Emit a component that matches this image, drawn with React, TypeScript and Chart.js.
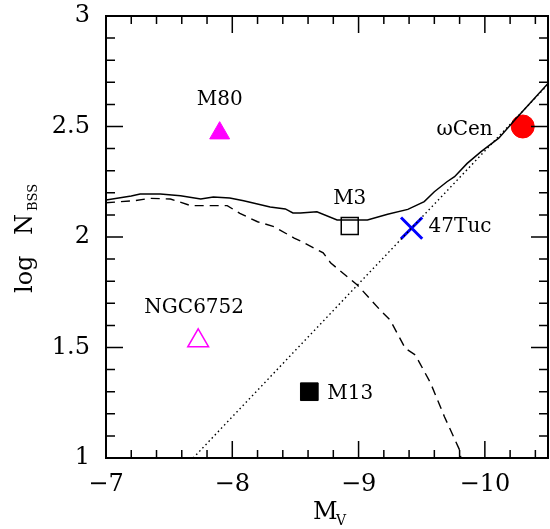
import { useEffect, useRef } from "react";
import Chart from "chart.js/auto";

// Axis tick labels
const X_TICKS = [-10, -9, -8, -7];
const Y_TICKS = [1, 1.5, 2, 2.5, 3];

// Solid curve (total)
const SOLID_MV = [-7.0, -7.2, -7.27, -7.43, -7.59, -7.75, -7.85, -7.98, -8.09, -8.3, -8.42, -8.48, -8.54, -8.67, -8.83, -9.07, -9.23, -9.39, -9.52, -9.6, -9.7, -9.76, -9.86, -9.97, -10.11, -10.26, -10.5];
const SOLID_LOGN = [2.167, 2.186, 2.195, 2.195, 2.187, 2.172, 2.181, 2.176, 2.164, 2.136, 2.127, 2.109, 2.109, 2.114, 2.077, 2.077, 2.103, 2.125, 2.16, 2.205, 2.25, 2.273, 2.333, 2.386, 2.447, 2.544, 2.695];

// Dashed curve
const DASHED_MV = [-7.0, -7.22, -7.35, -7.51, -7.67, -7.96, -8.06, -8.2, -8.33, -8.49, -8.54, -8.72, -8.78, -8.99, -9.17, -9.25, -9.37, -9.45, -9.57, -9.68, -9.8, -9.81];
const DASHED_LOGN = [2.155, 2.164, 2.175, 2.172, 2.142, 2.142, 2.107, 2.069, 2.047, 1.995, 1.982, 1.928, 1.882, 1.783, 1.67, 1.624, 1.496, 1.466, 1.339, 1.187, 1.036, 1.0];

// Dotted line
const DOTTED_MV = [-7.69, -10.5];
const DOTTED_LOGN = [1.0, 2.69];

// Clusters
const CLUSTERS = ["M80", "NGC6752", "M3", "M13", "47Tuc", "ωCen"];
const CLUSTER_MV = [-7.9, -7.73, -8.93, -8.61, -9.42, -10.3];
const CLUSTER_LOGN = [2.47, 1.53, 2.05, 1.3, 2.04, 2.5];

// Marker styles and label placement (pixels, relative to the marker)
const MARKERS = [
  { style: "triangle", radius: 11.5, fill: "#ff00ff", stroke: "#ff00ff", width: 1, dx: 0, dy: -33, align: "center" },
  { style: "triangle", radius: 12, fill: "rgba(0,0,0,0)", stroke: "#ff00ff", width: 1.5, dx: -4, dy: -33, align: "center" },
  { style: "rect", radius: 12, fill: "rgba(0,0,0,0)", stroke: "#000000", width: 1.5, dx: 0, dy: -27, align: "center" },
  { style: "rect", radius: 12.5, fill: "#000000", stroke: "#000000", width: 1, dx: 18, dy: 2, align: "left" },
  { style: "crossRot", radius: 15, fill: "#0000ff", stroke: "#0000ff", width: 3, dx: 17, dy: -1, align: "left" },
  { style: "circle", radius: 11.5, fill: "#ff0000", stroke: "#ff0000", width: 1, dx: -30, dy: 3, align: "right" },
];

const SERIF = "'DejaVu Serif', serif";

const zip = (xs: number[], ys: number[]) => xs.map((x, i) => ({ x, y: ys[i] }));

const framePlugin = {
  id: "frameAndLabels",
  afterDraw(chart: any) {
    const { ctx, chartArea: a, scales } = chart;
    const xs = scales.x;
    const ys = scales.y;
    ctx.save();
    // frame
    ctx.strokeStyle = "#000";
    ctx.lineWidth = 2;
    ctx.strokeRect(a.left, a.top, a.right - a.left, a.bottom - a.top);
    // ticks
    ctx.lineWidth = 1.5;
    ctx.beginPath();
    for (let i = 0; i <= 17; i++) {
      const v = -7 - i * 0.2;
      const major = i % 5 === 0;
      const len = major ? 17 : 8;
      const px = xs.getPixelForValue(v);
      ctx.moveTo(px, a.bottom);
      ctx.lineTo(px, a.bottom - len);
      ctx.moveTo(px, a.top);
      ctx.lineTo(px, a.top + len);
    }
    for (let i = 0; i <= 20; i++) {
      const v = 1 + i * 0.1;
      const major = i % 5 === 0;
      const len = major ? 17 : 9;
      const py = ys.getPixelForValue(v);
      ctx.moveTo(a.left, py);
      ctx.lineTo(a.left + len, py);
      ctx.moveTo(a.right, py);
      ctx.lineTo(a.right - len, py);
    }
    ctx.stroke();

    // point labels
    ctx.fillStyle = "#000";
    ctx.font = `20px ${SERIF}`;
    ctx.textBaseline = "middle";
    CLUSTERS.forEach((name, i) => {
      const m = MARKERS[i];
      const px = xs.getPixelForValue(CLUSTER_MV[i]);
      const py = ys.getPixelForValue(CLUSTER_LOGN[i]);
      ctx.textAlign = m.align;
      ctx.fillText(name, px + m.dx, py + m.dy);
    });

    // x axis title: M_V
    ctx.textAlign = "left";
    ctx.textBaseline = "alphabetic";
    ctx.font = `24px ${SERIF}`;
    ctx.fillText("M", 313, 519);
    ctx.font = `14px ${SERIF}`;
    ctx.fillText("V", 336, 525);

    // y axis title: log N_BSS
    ctx.translate(32, 293);
    ctx.rotate(-Math.PI / 2);
    ctx.font = `24px ${SERIF}`;
    ctx.fillText("log", 0, 0);
    ctx.fillText("N", 58, 0);
    ctx.font = `13px ${SERIF}`;
    ctx.fillText("BSS", 82, 5);
    ctx.restore();
  },
};

export default function App() {
  const ref = useRef<HTMLCanvasElement | null>(null);
  useEffect(() => {
    document.body.style.margin = "0";
    if (!ref.current) return;
    const pointSets = CLUSTERS.map((name, i) => ({
      label: name,
      data: [{ x: CLUSTER_MV[i], y: CLUSTER_LOGN[i] }],
      pointStyle: MARKERS[i].style,
      pointRadius: MARKERS[i].radius,
      pointHoverRadius: MARKERS[i].radius,
      pointBackgroundColor: MARKERS[i].fill,
      pointBorderColor: MARKERS[i].stroke,
      pointBorderWidth: MARKERS[i].width,
      showLine: false,
      clip: false,
    }));
    const chart = new Chart(ref.current, {
      type: "scatter",
      data: {
        datasets: [
          { label: "dotted", data: zip(DOTTED_MV, DOTTED_LOGN), showLine: true, borderColor: "#000", borderWidth: 1.4, borderDash: [1.5, 3], pointRadius: 0 },
          { label: "dashed", data: zip(DASHED_MV, DASHED_LOGN), showLine: true, borderColor: "#000", borderWidth: 1.4, borderDash: [9, 6], pointRadius: 0 },
          { label: "solid", data: zip(SOLID_MV, SOLID_LOGN), showLine: true, borderColor: "#000", borderWidth: 1.5, pointRadius: 0 },
          ...pointSets,
        ] as any,
      },
      options: {
        animation: false,
        responsive: true,
        maintainAspectRatio: false,
        layout: { autoPadding: false, padding: { left: 0, right: 2, top: 16, bottom: 0 } },
        plugins: { legend: { display: false }, tooltip: { enabled: false } },
        scales: {
          x: {
            type: "linear",
            min: -10.5,
            max: -7,
            reverse: true,
            grid: { display: false, drawTicks: false },
            border: { display: false },
            afterBuildTicks: (s: any) => {
              s.ticks = X_TICKS.map((v) => ({ value: v }));
            },
            afterFit: (s: any) => {
              s.height = 71;
              s.paddingLeft = 0;
              s.paddingRight = 0;
              s.paddingTop = 0;
              s.paddingBottom = 0;
            },
            ticks: {
              color: "#000",
              font: { family: SERIF, size: 24 },
              padding: 12,
              maxRotation: 0,
              autoSkip: false,
              callback: (v: any) => "−" + Math.abs(Number(v)),
            },
          },
          y: {
            type: "linear",
            min: 1,
            max: 3,
            grid: { display: false, drawTicks: false },
            border: { display: false },
            afterBuildTicks: (s: any) => {
              s.ticks = Y_TICKS.map((v) => ({ value: v }));
            },
            afterFit: (s: any) => {
              s.width = 106;
              s.paddingLeft = 0;
              s.paddingRight = 0;
              s.paddingTop = 0;
              s.paddingBottom = 0;
            },
            ticks: {
              color: "#000",
              font: { family: SERIF, size: 24 },
              padding: 16,
              autoSkip: false,
              callback: (v: any) => String(v),
            },
          },
        },
      },
      plugins: [framePlugin],
    });
    return () => chart.destroy();
  }, []);
  return (
    <div style={{ width: 550, height: 529, position: "relative", background: "#fff" }}>
      <canvas ref={ref} />
    </div>
  );
}
